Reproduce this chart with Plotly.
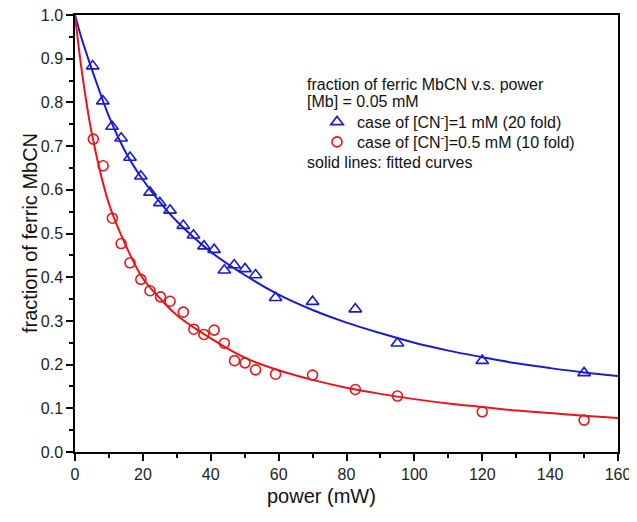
import plotly.graph_objects as go

power_1mM = [5.2, 8.2, 10.9, 13.6, 16.2, 19.4, 22.1, 25.0, 28.0, 31.9, 34.9, 38.0, 41.0,
             44.0, 46.9, 50.1, 53.2, 59.1, 70.0, 82.6, 95.0, 120.0, 150.0]
frac_1mM = [0.883, 0.803, 0.745, 0.718, 0.674, 0.631, 0.594, 0.570, 0.553, 0.518, 0.496,
            0.471, 0.463, 0.416, 0.428, 0.419, 0.405, 0.353, 0.344, 0.327, 0.249, 0.209, 0.181]

power_05mM = [5.4, 8.3, 11.0, 13.6, 16.2, 19.4, 22.1, 25.2, 28.0, 31.9, 35.0, 38.0, 41.0,
              44.0, 47.0, 50.1, 53.2, 59.1, 70.0, 82.6, 95.0, 120.0, 150.0]
frac_05mM = [0.716, 0.655, 0.535, 0.477, 0.433, 0.395, 0.369, 0.355, 0.345, 0.320, 0.281,
             0.269, 0.279, 0.249, 0.209, 0.204, 0.188, 0.178, 0.176, 0.143, 0.128, 0.092, 0.073]

# fitted curves
fit_x = [0, 2, 5, 10, 15, 20, 25, 30, 40, 50, 60, 70, 80, 90, 100, 110, 120, 130, 140, 150, 160]
fit_1mM = [1.0, 0.945, 0.875, 0.768, 0.685, 0.623, 0.572, 0.528, 0.458, 0.405, 0.360, 0.325,
           0.296, 0.272, 0.250, 0.232, 0.217, 0.203, 0.192, 0.182, 0.174]
fit_05mM = [1.0, 0.872, 0.727, 0.568, 0.472, 0.397, 0.352, 0.313, 0.260, 0.216, 0.187, 0.165,
            0.147, 0.133, 0.121, 0.111, 0.103, 0.095, 0.089, 0.083, 0.078]

x_ticks = [0, 20, 40, 60, 80, 100, 120, 140, 160]
y_ticks = [0.0, 0.1, 0.2, 0.3, 0.4, 0.5, 0.6, 0.7, 0.8, 0.9, 1.0]

BLUE = "#1a1ad2"
RED = "#e6161c"
FONT = "Arial, Liberation Sans, sans-serif"

# target plot-area edges on screen; page body adds an 8px offset
OFF = 8
L, R, T, B = 75, 618, 15, 452
W, H = 637 - OFF, 522 - OFF


def px(xs):
    return (xs - L) / (R - L)


def py(ys):
    return (B - ys) / (B - T)


fig = go.Figure()
fig.add_trace(go.Scatter(x=fit_x, y=fit_1mM, mode="lines", line=dict(color=BLUE, width=2, shape="spline"),
                         showlegend=False, hoverinfo="skip"))
fig.add_trace(go.Scatter(x=fit_x, y=fit_05mM, mode="lines", line=dict(color=RED, width=2, shape="spline"),
                         showlegend=False, hoverinfo="skip"))
fig.add_trace(go.Scatter(x=power_1mM, y=frac_1mM, mode="markers", legend="legend",
                         name="case of [CN<sup>-</sup>]=1 mM (20 fold)",
                         marker=dict(symbol="triangle-up-open", size=11, color=BLUE, line=dict(width=1.6, color=BLUE))))
fig.add_trace(go.Scatter(x=power_05mM, y=frac_05mM, mode="markers", legend="legend2",
                         name="case of [CN<sup>-</sup>]=0.5 mM (10 fold)",
                         marker=dict(symbol="circle-open", size=10, color=RED, line=dict(width=1.6, color=RED))))

axis_common = dict(showline=True, linecolor="black", linewidth=1.5, mirror=True,
                   ticks="outside", ticklen=7, tickwidth=1.5, tickcolor="black",
                   showgrid=False, zeroline=False, automargin=False, ticklabeloverflow="allow",
                   tickfont=dict(family=FONT, size=16, color="#222"))

fig.update_xaxes(range=[0, 160], tickvals=x_ticks, ticktext=[str(v) for v in x_ticks],
                 minor=dict(dtick=10, ticks="outside", ticklen=4, tickwidth=1.5, tickcolor="black", tick0=0),
                 **axis_common)
fig.update_yaxes(range=[0, 1.0], tickvals=y_ticks, ticktext=[f"{v:.1f}" for v in y_ticks],
                 minor=dict(dtick=0.05, ticks="outside", ticklen=4, tickwidth=1.5, tickcolor="black", tick0=0),
                 **axis_common)

# axis titles
fig.add_annotation(x=px(321), y=py(496), xref="paper", yref="paper", text="power (mW)", showarrow=False,
                   xanchor="center", yanchor="middle", font=dict(family=FONT, size=20, color="#111"))
fig.add_annotation(x=px(30), y=py(233), xref="paper", yref="paper", text="fraction of ferric MbCN",
                   showarrow=False, textangle=-90, xanchor="center", yanchor="middle",
                   font=dict(family=FONT, size=20, color="#111"))

texts = [("fraction of ferric MbCN v.s. power", 84), ("[Mb] = 0.05 mM", 101), ("solid lines: fitted curves", 162)]
for t, yy in texts:
    fig.add_annotation(x=px(305), y=py(yy), xref="paper", yref="paper", text=t,
                       showarrow=False, xanchor="left", yanchor="middle",
                       font=dict(family=FONT, size=16, color="#111"))

leg = dict(xanchor="left", yanchor="middle", bgcolor="rgba(0,0,0,0)",
           font=dict(family=FONT, size=16, color="#111"), itemsizing="trace")

fig.update_layout(
    width=W, height=H,
    margin=dict(l=L - OFF, r=W - (R - OFF), t=T - OFF, b=H - (B - OFF), autoexpand=False),
    paper_bgcolor="white", plot_bgcolor="white",
    font=dict(family=FONT, size=16, color="#111"),
    legend=dict(x=px(317), y=py(122), **leg),
    legend2=dict(x=px(317), y=py(142), **leg),
)

fig.write_html("out.html")
